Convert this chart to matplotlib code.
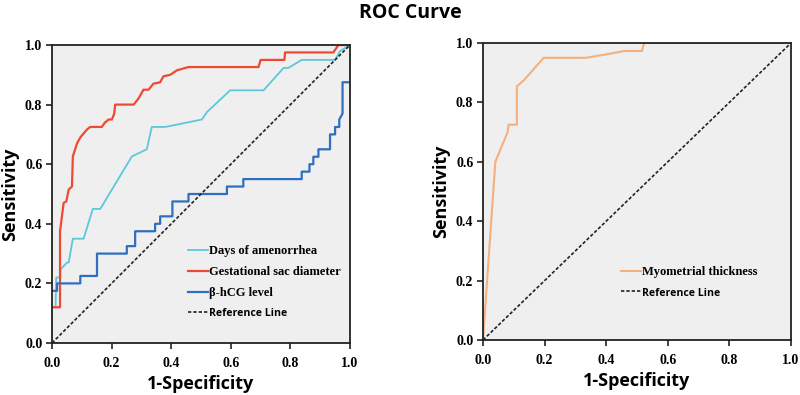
import matplotlib
matplotlib.use("Agg")
import matplotlib.pyplot as plt

# ---- data ----
days_fpr  = [0.0, 0.012, 0.014, 0.028, 0.028, 0.05, 0.056, 0.07, 0.106, 0.137, 0.162, 0.268, 0.318, 0.335, 0.38, 0.503, 0.52, 0.598, 0.71, 0.777, 0.793, 0.838, 0.95, 0.967, 1.0]
days_tpr  = [0.12, 0.12, 0.22, 0.22, 0.246, 0.27, 0.27, 0.35, 0.35, 0.45, 0.45, 0.626, 0.65, 0.725, 0.725, 0.75, 0.775, 0.848, 0.848, 0.923, 0.923, 0.95, 0.95, 0.98, 1.0]

gsd_fpr = [0.0, 0.027, 0.027, 0.039, 0.048, 0.056, 0.067, 0.07, 0.084, 0.095, 0.117, 0.128, 0.167, 0.178, 0.19, 0.201, 0.209, 0.212, 0.274, 0.29, 0.307, 0.324, 0.34, 0.363, 0.374, 0.397, 0.419, 0.458, 0.693, 0.7, 0.78, 0.782, 0.944, 0.961, 1.0]
gsd_tpr = [0.12, 0.12, 0.375, 0.47, 0.475, 0.515, 0.525, 0.626, 0.67, 0.69, 0.716, 0.725, 0.725, 0.74, 0.75, 0.75, 0.77, 0.8, 0.8, 0.82, 0.85, 0.85, 0.87, 0.875, 0.895, 0.9, 0.915, 0.926, 0.926, 0.95, 0.95, 0.975, 0.975, 1.0, 1.0]

hcg_fpr = [0.0, 0.017, 0.017, 0.095, 0.095, 0.151, 0.151, 0.251, 0.251, 0.279, 0.279, 0.346, 0.346, 0.363, 0.363, 0.404, 0.404, 0.458, 0.458, 0.587, 0.587, 0.642, 0.642, 0.838, 0.838, 0.864, 0.864, 0.877, 0.877, 0.894, 0.894, 0.933, 0.933, 0.95, 0.95, 0.964, 0.964, 0.975, 0.975, 1.0]
hcg_tpr = [0.175, 0.175, 0.2, 0.2, 0.225, 0.225, 0.3, 0.3, 0.325, 0.325, 0.375, 0.375, 0.4, 0.4, 0.425, 0.425, 0.475, 0.475, 0.5, 0.5, 0.525, 0.525, 0.55, 0.55, 0.575, 0.575, 0.6, 0.6, 0.625, 0.625, 0.65, 0.65, 0.7, 0.7, 0.725, 0.725, 0.75, 0.77, 0.875, 0.875]

myo_fpr = [0.0, 0.04, 0.08, 0.083, 0.11, 0.11, 0.132, 0.197, 0.332, 0.402, 0.458, 0.516, 0.523, 1.0]
myo_tpr = [0.0, 0.6, 0.7, 0.725, 0.725, 0.854, 0.874, 0.95, 0.95, 0.962, 0.973, 0.973, 1.0, 1.0]

ref_line = [0.0, 1.0]
ticks = [0.0, 0.2, 0.4, 0.6, 0.8, 1.0]
tick_labels = ["0.0", "0.2", "0.4", "0.6", "0.8", "1.0"]

# ---- styles ----
C_DAYS = "#5bc8dc"
C_GSD = "#ee4a33"
C_HCG = "#2f6fbd"
C_MYO = "#f4b07e"
BG = "#efefef"
SERIF = "Liberation Serif"
SANS = "Open Sans"

fig = plt.figure(figsize=(8.0, 3.95), dpi=100)
W, H = 800, 395

def make_ax(x0, y0, x1, y1):
    return fig.add_axes([x0 / W, 1 - y1 / H, (x1 - x0) / W, (y1 - y0) / H])

ax1 = make_ax(52, 45, 350, 343)
ax2 = make_ax(483, 43, 791, 340)

def style(ax):
    ax.set_facecolor(BG)
    ax.set_xlim(0, 1)
    ax.set_ylim(0, 1)
    ax.set_xticks(ticks)
    ax.set_yticks(ticks)
    ax.set_xticklabels(tick_labels, fontfamily=SERIF, fontweight="bold", fontsize=10)
    ax.set_yticklabels(tick_labels, fontfamily=SERIF, fontweight="bold", fontsize=10)
    ax.tick_params(direction="out", length=4, width=1.2, color="#222222")
    ax.tick_params(axis="x", pad=6)
    ax.tick_params(axis="y", pad=3)
    for s in ax.spines.values():
        s.set_linewidth(1.3)
        s.set_color("#222222")
    ax.set_xlabel("1-Specificity", fontfamily=SANS, fontweight="bold", fontsize=13, labelpad=4)
    ax.set_ylabel("Sensitivity", fontfamily=SANS, fontweight="bold", fontsize=13, labelpad=4)

style(ax1)
ax1.plot(days_fpr, days_tpr, color=C_DAYS, lw=1.3, label="Days of amenorrhea")
ax1.plot(gsd_fpr, gsd_tpr, color=C_GSD, lw=1.6, label="Gestational sac diameter")
ax1.plot(hcg_fpr, hcg_tpr, color=C_HCG, lw=1.6, label="β-hCG level")
ax1.plot(ref_line, ref_line, color="#222222", lw=1.2, ls=(0, (2, 1.2)), label="Reference Line")

style(ax2)
ax2.plot(myo_fpr, myo_tpr, color=C_MYO, lw=1.5, label="Myometrial thickness")
ax2.plot(ref_line, ref_line, color="#222222", lw=1.2, ls=(0, (2, 1.2)), label="Reference Line")

def legend(ax, loc_xy):
    leg = ax.legend(loc="upper left", bbox_to_anchor=loc_xy, frameon=False,
                    handlelength=1.6, handletextpad=0.08, labelspacing=0.7,
                    prop={"family": SERIF, "weight": "bold", "size": 9})
    for t in leg.get_texts():
        if t.get_text() == "Reference Line":
            t.set_fontfamily(SANS)
            t.set_fontsize(7.6)
    return leg

legend(ax1, (0.417, 0.365))
legend(ax2, (0.41, 0.287))

fig.text(410 / W, 1 - 13 / H, "ROC Curve", ha="center", va="center",
         fontfamily=SANS, fontweight="bold", fontsize=14)

fig.savefig("out.png", dpi=100, facecolor="white")
